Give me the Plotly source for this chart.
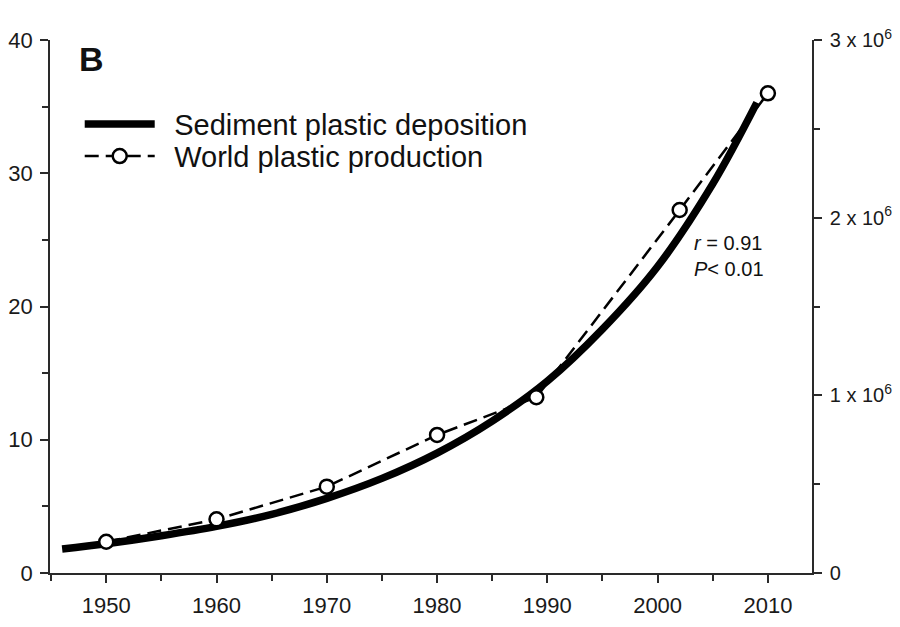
import plotly.graph_objects as go

# Sediment plastic deposition (left axis)
sed_years = [1946, 1950, 1955, 1960, 1965, 1970, 1975, 1980, 1985, 1990, 1995, 2000, 2005, 2009]
sed_values = [1.8, 2.2, 2.8, 3.5, 4.4, 5.6, 7.1, 9.0, 11.4, 14.4, 18.3, 23.0, 29.2, 35.3]

# World plastic production (right axis)
prod_years = [1950, 1960, 1970, 1980, 1989, 2002, 2010]
prod_values = [0.176e6, 0.302e6, 0.486e6, 0.777e6, 0.989e6, 2.043e6, 2.70e6]

right_tickvals = [0, 1e6, 2e6, 3e6]
right_ticktext = ["0", "1 x 10<sup>6</sup>", "2 x 10<sup>6</sup>", "3 x 10<sup>6</sup>"]

FONT = "Liberation Sans, Arial, sans-serif"
AX = "#2a2a2a"
SP = "\u2002"

fig = go.Figure()
fig.add_trace(go.Scatter(
    x=sed_years, y=sed_values, mode="lines", name=SP + "Sediment plastic deposition",
    line=dict(color="black", width=7.5, shape="spline"), yaxis="y", legend="legend",
))
fig.add_trace(go.Scatter(
    x=prod_years, y=prod_values, mode="lines+markers", name=SP + "World plastic production",
    line=dict(color="black", width=2.5, dash="14px,7px"),
    marker=dict(symbol="circle", size=14, color="white", line=dict(color="black", width=2.5)),
    yaxis="y2", legend="legend2",
))

leg_common = dict(
    xanchor="left", yanchor="middle",
    font=dict(size=29, family=FONT, color="#111"),
    bgcolor="rgba(0,0,0,0)", itemwidth=70,
)

fig.update_layout(
    width=900, height=627,
    margin=dict(l=50, r=88, t=40, b=54),
    paper_bgcolor="white", plot_bgcolor="white",
    font=dict(family=FONT, color="#1a1a1a", size=22),
    showlegend=True,
    legend=dict(x=0.039, y=0.842, **leg_common),
    legend2=dict(x=0.039, y=0.782, **leg_common),
    xaxis=dict(
        range=[1944.9, 2014], tick0=1950, dtick=10,
        showline=True, linecolor=AX, linewidth=1.5,
        ticks="outside", ticklen=8, tickwidth=1.5, tickcolor=AX,
        minor=dict(dtick=5, tick0=1950, ticks="outside", ticklen=6, tickwidth=1.5, tickcolor=AX),
        showgrid=False, zeroline=False, tickfont=dict(size=22), automargin=False,
        ticklabelstandoff=4,
    ),
    yaxis=dict(
        range=[0, 40], dtick=10,
        showline=True, linecolor=AX, linewidth=1.5,
        ticks="outside", ticklen=8, tickwidth=1.5, tickcolor=AX,
        minor=dict(dtick=5, ticks="outside", ticklen=6, tickwidth=1.5, tickcolor=AX),
        showgrid=False, zeroline=False, tickfont=dict(size=22), automargin=False,
        ticklabelstandoff=3,
    ),
    yaxis2=dict(
        range=[0, 3e6], overlaying="y", side="right",
        tickvals=right_tickvals, ticktext=right_ticktext,
        showline=True, linecolor=AX, linewidth=1.5,
        ticks="outside", ticklen=8, tickwidth=1.5, tickcolor=AX,
        minor=dict(dtick=0.5e6, ticks="outside", ticklen=6, tickwidth=1.5, tickcolor=AX),
        showgrid=False, zeroline=False, tickfont=dict(size=20), automargin=False,
        ticklabelstandoff=4,
    ),
    annotations=[
        dict(text="<b>B</b>", xref="paper", yref="paper", x=0.035, y=0.965,
             xanchor="left", yanchor="middle", showarrow=False,
             font=dict(size=34, family=FONT, color="#111")),
        dict(text="<i>r</i> = 0.91<br><i>P</i>< 0.01", xref="paper", yref="paper",
             x=0.842, y=0.594, xanchor="left", yanchor="middle", align="left",
             showarrow=False, font=dict(size=20, family=FONT, color="#111")),
    ],
)

fig.write_html(
    "out.html",
    config={"displayModeBar": False},
    post_script="document.body.style.margin='0';document.documentElement.style.overflow='hidden';document.body.style.overflow='hidden';",
)
